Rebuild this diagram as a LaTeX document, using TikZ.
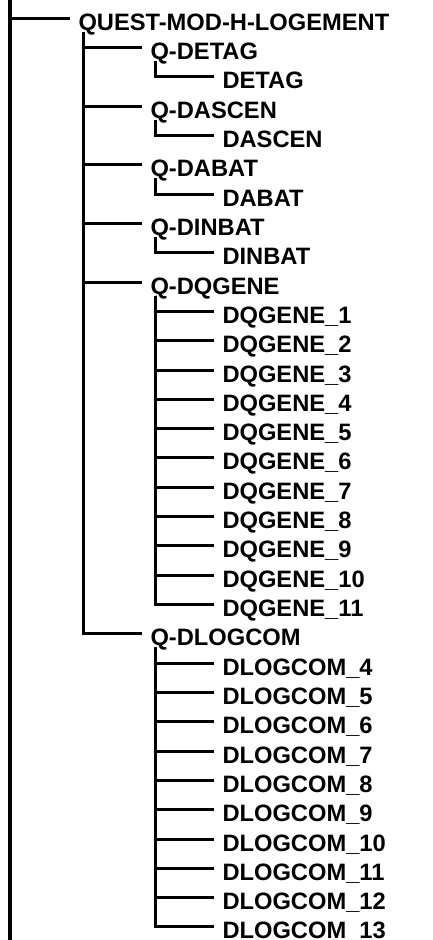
\documentclass[tikz,border=0pt]{standalone}
\usepackage{fontspec}
\setmainfont{Liberation Sans}
\begin{document}
\begin{tikzpicture}[x=1pt, y=-1pt, line width=3pt,
  label/.style={anchor=west, inner xsep=7pt, inner ysep=0pt, text height=24pt, text depth=0pt,
    font=\bfseries\fontsize{23.7}{28}\selectfont},
  link/.style={line width=3pt},
  trunk/.style={line width=3.4pt}]
\useasboundingbox (0,0) rectangle (432,940);
%\draw[help lines, step=29.31] (0,0) grid (432,940);
%%%%%%%%%%%%%%%%%%%%%%%%%%%%%%% trunk
\coordinate(top) at (10,0);
\coordinate(bottom) at (10,940);
\node[label](quest) at (70,18.3){QUEST-MOD-H-LOGEMENT};
%%%%%%%%%%%%%%%%%%%%%%%%%%%%%%% questions
\node[label](qdetag) at (142,47.6){Q-DETAG};
\node[label](detag) at (214,76.9){DETAG};
\node[label](qdascen) at (142,106.2){Q-DASCEN};
\node[label](dascen) at (214,135.5){DASCEN};
\node[label](qdabat) at (142,164.9){Q-DABAT};
\node[label](dabat) at (214,194.2){DABAT};
\node[label](qdinbat) at (142,223.5){Q-DINBAT};
\node[label](dinbat) at (214,252.8){DINBAT};
\node[label](qdqgene) at (142,282.1){Q-DQGENE};
\node[label](dqgene1) at (214,311.4){DQGENE\_1};
\node[label](dqgene2) at (214,340.7){DQGENE\_2};
\node[label](dqgene3) at (214,370.0){DQGENE\_3};
\node[label](dqgene4) at (214,399.3){DQGENE\_4};
\node[label](dqgene5) at (214,428.6){DQGENE\_5};
\node[label](dqgene6) at (214,457.9){DQGENE\_6};
\node[label](dqgene7) at (214,487.3){DQGENE\_7};
\node[label](dqgene8) at (214,516.6){DQGENE\_8};
\node[label](dqgene9) at (214,545.9){DQGENE\_9};
\node[label](dqgene10) at (214,575.2){DQGENE\_10};
\node[label](dqgene11) at (214,604.5){DQGENE\_11};
\node[label](qdlogcom) at (142,633.8){Q-DLOGCOM};
\node[label](dlogcom4) at (214,663.1){DLOGCOM\_4};
\node[label](dlogcom5) at (214,692.4){DLOGCOM\_5};
\node[label](dlogcom6) at (214,721.7){DLOGCOM\_6};
\node[label](dlogcom7) at (214,751.0){DLOGCOM\_7};
\node[label](dlogcom8) at (214,780.4){DLOGCOM\_8};
\node[label](dlogcom9) at (214,809.7){DLOGCOM\_9};
\node[label](dlogcom10) at (214,839.0){DLOGCOM\_10};
\node[label](dlogcom11) at (214,868.3){DLOGCOM\_11};
\node[label](dlogcom12) at (214,897.6){DLOGCOM\_12};
\node[label](dlogcom13) at (214,926.9){DLOGCOM\_13};
%%%%%%%%%%%%%%%%%%%%%%%%%%%%%%% links
\draw[trunk] (top) -- (bottom);
\draw[link] (top) |- (quest.west);
\draw[link] ([xshift=13pt]quest.south west) |- (qdetag.west);
\draw[link] ([xshift=13pt]quest.south west) |- (qdascen.west);
\draw[link] ([xshift=13pt]quest.south west) |- (qdabat.west);
\draw[link] ([xshift=13pt]quest.south west) |- (qdinbat.west);
\draw[link] ([xshift=13pt]quest.south west) |- (qdqgene.west);
\draw[link] ([xshift=13pt]quest.south west) |- (qdlogcom.west);
\draw[link] ([xshift=13pt]qdetag.south west) |- (detag.west);
\draw[link] ([xshift=13pt]qdascen.south west) |- (dascen.west);
\draw[link] ([xshift=13pt]qdabat.south west) |- (dabat.west);
\draw[link] ([xshift=13pt]qdinbat.south west) |- (dinbat.west);
\draw[link] ([xshift=13pt]qdqgene.south west) |- (dqgene1.west);
\draw[link] ([xshift=13pt]qdqgene.south west) |- (dqgene2.west);
\draw[link] ([xshift=13pt]qdqgene.south west) |- (dqgene3.west);
\draw[link] ([xshift=13pt]qdqgene.south west) |- (dqgene4.west);
\draw[link] ([xshift=13pt]qdqgene.south west) |- (dqgene5.west);
\draw[link] ([xshift=13pt]qdqgene.south west) |- (dqgene6.west);
\draw[link] ([xshift=13pt]qdqgene.south west) |- (dqgene7.west);
\draw[link] ([xshift=13pt]qdqgene.south west) |- (dqgene8.west);
\draw[link] ([xshift=13pt]qdqgene.south west) |- (dqgene9.west);
\draw[link] ([xshift=13pt]qdqgene.south west) |- (dqgene10.west);
\draw[link] ([xshift=13pt]qdqgene.south west) |- (dqgene11.west);
\draw[link] ([xshift=13pt]qdlogcom.south west) |- (dlogcom4.west);
\draw[link] ([xshift=13pt]qdlogcom.south west) |- (dlogcom5.west);
\draw[link] ([xshift=13pt]qdlogcom.south west) |- (dlogcom6.west);
\draw[link] ([xshift=13pt]qdlogcom.south west) |- (dlogcom7.west);
\draw[link] ([xshift=13pt]qdlogcom.south west) |- (dlogcom8.west);
\draw[link] ([xshift=13pt]qdlogcom.south west) |- (dlogcom9.west);
\draw[link] ([xshift=13pt]qdlogcom.south west) |- (dlogcom10.west);
\draw[link] ([xshift=13pt]qdlogcom.south west) |- (dlogcom11.west);
\draw[link] ([xshift=13pt]qdlogcom.south west) |- (dlogcom12.west);
\draw[link] ([xshift=13pt]qdlogcom.south west) |- (dlogcom13.west);
\end{tikzpicture}
\end{document}
